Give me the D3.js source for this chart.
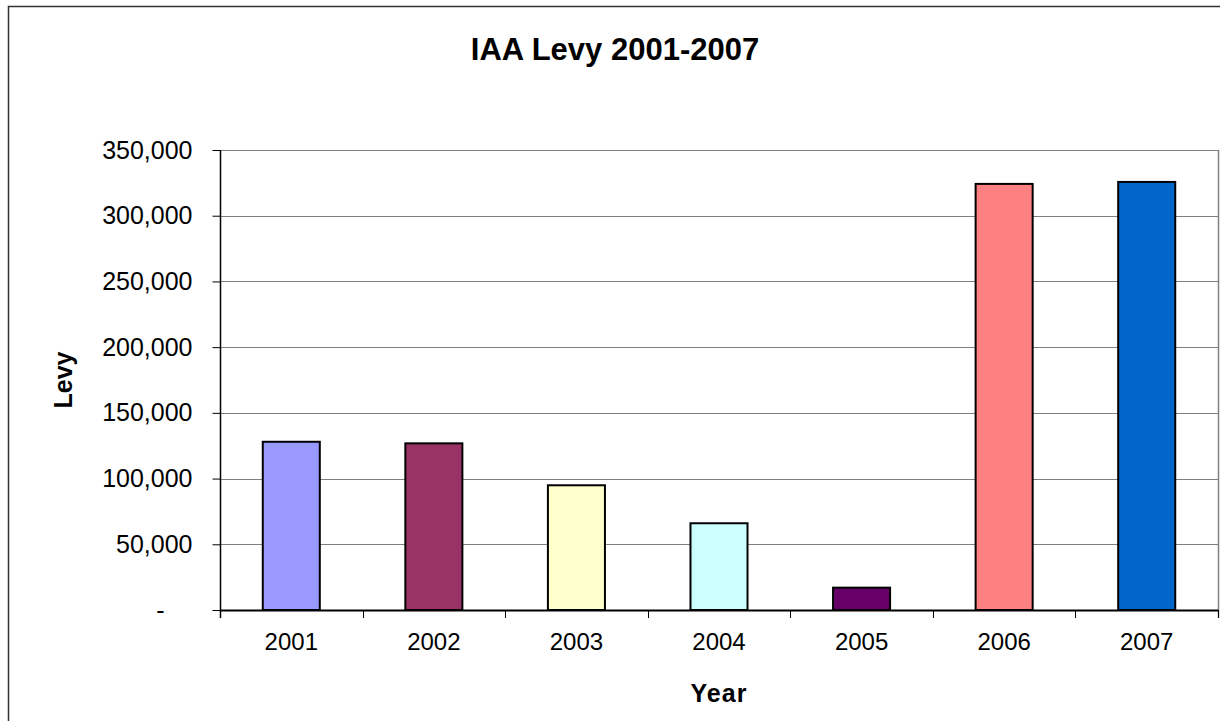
<!DOCTYPE html>
<html>
<head>
<meta charset="utf-8">
<script src="https://cdn.jsdelivr.net/npm/d3@7"></script>
<style>
  html, body { margin: 0; padding: 0; background: #fff; }
  svg { display: block; font-family: Arial, "Liberation Sans", sans-serif; }
</style>
</head>
<body>
<svg id="chart" width="1220" height="721"></svg>
<script>
const categories = ["2001", "2002", "2003", "2004", "2005", "2006", "2007"];
const values = [128000, 126800, 94900, 66000, 17000, 324200, 325700];
const barColors = ["#9999FF", "#993366", "#FFFFCC", "#CCFFFF", "#660066", "#FF8080", "#0066CC"];
const yTicks = [0, 50000, 100000, 150000, 200000, 250000, 300000, 350000];
const title = "IAA Levy 2001-2007";
const xTitle = "Year";
const yTitle = "Levy";

const svg = d3.select("#chart");
const plot = { left: 220, right: 1218, top: 150, bottom: 610 };

// outer chart border
svg.append("rect")
  .attr("x", 8.5).attr("y", 6.5)
  .attr("width", 1240).attr("height", 740)
  .attr("fill", "#fff").attr("stroke", "#333").attr("stroke-width", 1.5);

const x = d3.scaleBand().domain(categories).range([plot.left, plot.right]).paddingInner(0.6).paddingOuter(0.3);
const xb = d3.scaleBand().domain(categories).range([plot.left, plot.right]);
const y = d3.scaleLinear().domain([0, 350000]).range([plot.bottom, plot.top]);

// gridlines
svg.append("g").selectAll("line").data(yTicks.filter(d => d > 0)).join("line")
  .attr("x1", plot.left).attr("x2", plot.right)
  .attr("y1", d => Math.round(y(d)) + 0.5).attr("y2", d => Math.round(y(d)) + 0.5)
  .attr("stroke", "#808080").attr("stroke-width", 1);

// plot area right border
svg.append("line")
  .attr("x1", plot.right + 0.5).attr("x2", plot.right + 0.5)
  .attr("y1", plot.top).attr("y2", plot.bottom + 8)
  .attr("stroke", "#808080").attr("stroke-width", 1.5);

// bars
svg.append("g").selectAll("rect").data(categories).join("rect")
  .attr("x", d => x(d))
  .attr("width", x.bandwidth())
  .attr("y", (d, i) => y(values[i]))
  .attr("height", (d, i) => y(0) - y(values[i]))
  .attr("fill", (d, i) => barColors[i])
  .attr("stroke", "#000").attr("stroke-width", 2);

// y axis
const fmt = d3.format(",");
const yAxis = d3.axisLeft(y).tickValues(yTicks).tickSize(8).tickPadding(20)
  .tickFormat(d => d === 0 ? "-" : fmt(d));
const gy = svg.append("g").attr("transform", `translate(${plot.left + 0.5},0)`).call(yAxis);
gy.select(".domain").attr("stroke", "#000").attr("stroke-width", 1.5).attr("d", `M0,${plot.top}V${plot.bottom + 8}`);
gy.selectAll(".tick line").attr("stroke", "#000");
gy.selectAll(".tick text").attr("font-size", 25).attr("fill", "#000")
  .attr("font-family", "Arial, 'Liberation Sans', sans-serif")
  .attr("dx", d => d === 0 ? -28 : 0);

// x axis
const xAxis = d3.axisBottom(xb).tickSize(0).tickPadding(22);
const gx = svg.append("g").attr("transform", `translate(0,${plot.bottom + 0.5})`).call(xAxis);
gx.select(".domain").attr("stroke", "#000").attr("stroke-width", 2).attr("d", `M${plot.left},0H${plot.right}`);
gx.selectAll(".tick text").attr("font-size", 24).attr("fill", "#000")
  .attr("font-family", "Arial, 'Liberation Sans', sans-serif");
// category separator ticks
svg.append("g").selectAll("line").data(categories.concat(["end"])).join("line")
  .attr("x1", (d, i) => Math.round(plot.left + i * xb.step()) + 0.5)
  .attr("x2", (d, i) => Math.round(plot.left + i * xb.step()) + 0.5)
  .attr("y1", plot.bottom).attr("y2", plot.bottom + 8)
  .attr("stroke", "#000").attr("stroke-width", 1);

// titles
svg.append("text").attr("x", 615).attr("y", 60).attr("text-anchor", "middle")
  .attr("font-size", 31).attr("font-weight", "bold").text(title);
svg.append("text").attr("x", (plot.left + plot.right) / 2).attr("y", 702).attr("text-anchor", "middle")
  .attr("font-size", 25).attr("font-weight", "bold").attr("letter-spacing", 1).text(xTitle);
svg.append("text").attr("transform", `translate(72,${(plot.top + plot.bottom) / 2}) rotate(-90)`)
  .attr("text-anchor", "middle")
  .attr("font-size", 25).attr("font-weight", "bold").text(yTitle);
</script>
</body>
</html>
